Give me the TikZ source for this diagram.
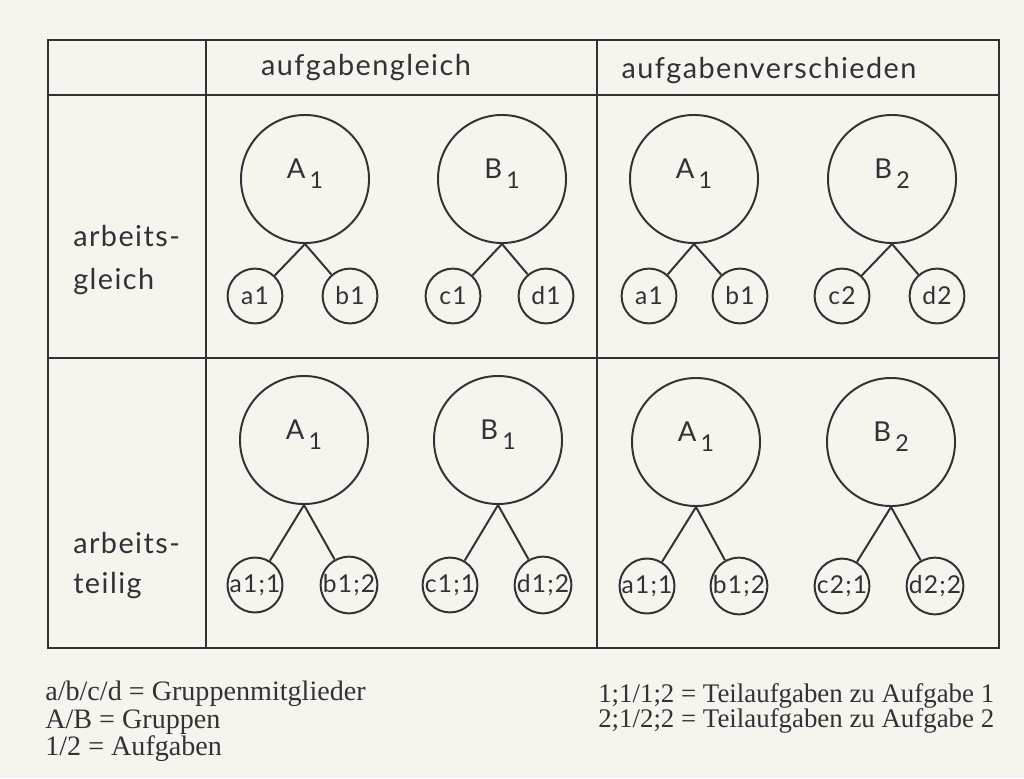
\documentclass[tikz,border=0pt]{standalone}
\usepackage{fontspec}
\setmainfont{Liberation Serif}
\newfontfamily\tabfont[LetterSpace=5]{Lato}
\usetikzlibrary{positioning}
\definecolor{paper}{RGB}{247,244,238}
\definecolor{ink}{RGB}{50,50,54}
% group name with lowered index
\newcommand{\grp}[2]{#1\kern3pt\raisebox{-7pt}[0pt][0pt]{\fontsize{16.5}{16}\selectfont #2}}

\begin{document}
\begin{tikzpicture}[x=0.025cm, y=-0.025cm,
    every node/.style={text=ink, font=\tabfont\fontsize{20.5}{24}\selectfont},
    group/.style={circle, draw=ink, line width=1.4pt, minimum size=3.2cm, inner sep=0pt,
        text depth=15pt, font=\tabfont\fontsize{19.5}{22}\selectfont},
    member/.style={circle, draw=ink, line width=1.4pt, minimum size=1.37cm, inner sep=0pt,
        font=\tabfont\fontsize{17.5}{20}\selectfont},
    tie/.style={draw=ink, line width=1.4pt},
    rowlabel/.style={anchor=base west, inner sep=0pt},
    legend/.style={anchor=base west, inner sep=0pt, font=\fontsize{20}{22}\selectfont}]
    % Paper
    \fill[paper] (0,0) rectangle (1024,778);

    % Table
    \draw[ink, line width=1.2pt] (48,40) rectangle (999,648);
    \draw[ink, line width=1.2pt] (206,40) -- (206,648) (597,40) -- (597,648);
    \draw[ink, line width=1.2pt] (48,95) -- (999,95) (48,358) -- (999,358);

    % Headings
    \node[anchor=base] (hgleich) at (366,75) {aufgabengleich};
    \node[anchor=base] (hversch) at (769,78) {aufgabenverschieden};
    \node[rowlabel] (rgleich1) at (73,246) {arbeits-};
    \node[rowlabel] (rgleich2) at (73,289) {gleich};
    \node[rowlabel] (rteilig1) at (73,553) {arbeits-};
    \node[rowlabel] (rteilig2) at (73,593) {teilig};

    % Groups, arbeitsgleich
    \node[group] (r1c1) at (305,179) {\grp{A}{1}};
    \node[group] (r1c2) at (502,179) {\grp{B}{1}};
    \node[group] (r1c3) at (694,179) {\grp{A}{1}};
    \node[group] (r1c4) at (892,179) {\grp{B}{2}};

    % Members, arbeitsgleich
    \node[member] (r1m1) at (255,296) {a1};
    \node[member] (r1m2) at (350,296) {b1};
    \node[member] (r1m3) at (453,296) {c1};
    \node[member] (r1m4) at (546,296) {d1};
    \node[member] (r1m5) at (649,296) {a1};
    \node[member] (r1m6) at (740,296) {b1};
    \node[member] (r1m7) at (842,296) {c2};
    \node[member] (r1m8) at (937,296) {d2};

    % Groups, arbeitsteilig
    \node[group] (r2c1) at (304,440) {\grp{A}{1}};
    \node[group] (r2c2) at (498,440) {\grp{B}{1}};
    \node[group] (r2c3) at (696,442) {\grp{A}{1}};
    \node[group] (r2c4) at (891,442) {\grp{B}{2}};

    % Members, arbeitsteilig
    \node[member] (r2m1) at (255,585) {a1;1};
    \node[member] (r2m2) at (349,585) {b1;2};
    \node[member] (r2m3) at (450,585) {c1;1};
    \node[member] (r2m4) at (543,585) {d1;2};
    \node[member] (r2m5) at (647,586) {a1;1};
    \node[member] (r2m6) at (739,586) {b1;2};
    \node[member] (r2m7) at (842,586) {c2;1};
    \node[member] (r2m8) at (935,586) {d2;2};

    % Ties
    \draw[tie] (r1c1.south) -- (r1m1) (r1c1.south) -- (r1m2);
    \draw[tie] (r1c2.south) -- (r1m3) (r1c2.south) -- (r1m4);
    \draw[tie] (r1c3.south) -- (r1m5) (r1c3.south) -- (r1m6);
    \draw[tie] (r1c4.south) -- (r1m7) (r1c4.south) -- (r1m8);
    \draw[tie] (r2c1.south) -- (r2m1) (r2c1.south) -- (r2m2);
    \draw[tie] (r2c2.south) -- (r2m3) (r2c2.south) -- (r2m4);
    \draw[tie] (r2c3.south) -- (r2m5) (r2c3.south) -- (r2m6);
    \draw[tie] (r2c4.south) -- (r2m7) (r2c4.south) -- (r2m8);

    % Legend
    \node[legend] (keyl1) at (45,700) {a/b/c/d = Gruppenmitglieder};
    \node[legend] (keyl2) at (45,728) {A/B = Gruppen};
    \node[legend] (keyl3) at (45,755) {1/2 = Aufgaben};
    \node[legend, font=\fontsize{19.1}{22}\selectfont] (keyr1) at (598,702) {1;1/1;2 = Teilaufgaben zu Aufgabe 1};
    \node[legend, font=\fontsize{19.1}{22}\selectfont] (keyr2) at (598,727) {2;1/2;2 = Teilaufgaben zu Aufgabe 2};
\end{tikzpicture}
\end{document}
